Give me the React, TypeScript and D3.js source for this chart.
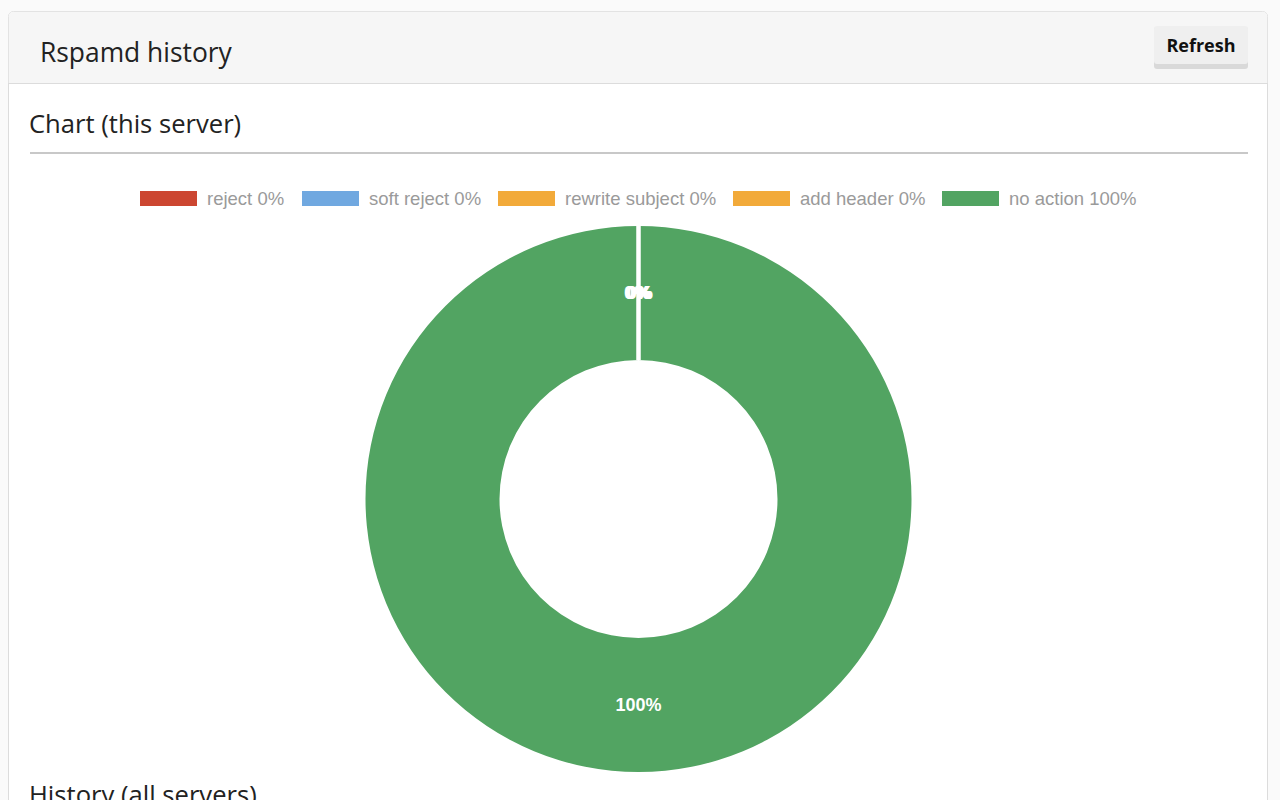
import React from "react";
import * as d3 from "d3";

const actions = ["reject", "soft reject", "rewrite subject", "add header", "no action"];
const values = [0, 0, 0, 0, 100];
const colors = ["#cc4631", "#70a8e0", "#f2aa3a", "#f2aa3a", "#52a462"];
const legendX = [140, 302, 498, 733, 942];

export default function App() {
  const W = 1280, H = 800;
  const cx = 638.5, cy = 499, outerR = 273, innerR = 139;
  const total = d3.sum(values);
  const pie = d3.pie<number>().sort(null).value((d) => d);
  const arcs = pie(values);
  const arc = d3.arc<d3.PieArcDatum<number>>().innerRadius(innerR).outerRadius(outerR);
  const labelArc = d3.arc<d3.PieArcDatum<number>>().innerRadius((innerR + outerR) / 2).outerRadius((innerR + outerR) / 2);
  const pct = (v: number) => `${Math.round((v / total) * 100)}%`;
  const sans = "'Open Sans', sans-serif";
  const helv = "'Liberation Sans', Arial, sans-serif";
  const edge = (a: number, r: number) => [Math.sin(a) * r, -Math.cos(a) * r];

  return (
    <div style={{ position: "fixed", left: 0, top: 0, width: W, height: H, background: "#fafafa" }}>
      <svg width={W} height={H} style={{ display: "block" }}>
        <defs>
          <clipPath id="card">
            <rect x={8.5} y={11.5} width={1259} height={900} rx={5} />
          </clipPath>
        </defs>
        <rect x={8.5} y={11.5} width={1259} height={900} rx={5} fill="#fff" stroke="#dcdcdc" />
        <g clipPath="url(#card)">
          <rect x={8.5} y={11.5} width={1259} height={72} fill="#f6f6f6" />
        </g>
        <line x1={8} x2={1268} y1={83.5} y2={83.5} stroke="#dcdcdc" />
        <text x={40} y={62} fontFamily={sans} fontSize={26.4} fill="#222">Rspamd history</text>
        {/* Refresh button */}
        <rect x={1154} y={27} width={94} height={42} rx={3} fill="#d9d9d9" />
        <rect x={1154} y={26} width={94} height={38} rx={3} fill="#efefef" />
        <text x={1201} y={52} textAnchor="middle" fontFamily={sans} fontWeight={700} fontSize={18} fill="#111">Refresh</text>

        <text x={29} y={133} fontFamily={sans} fontSize={25.6} fill="#222">Chart (this server)</text>
        <line x1={30} x2={1248} y1={153} y2={153} stroke="#c8c8c8" strokeWidth={2} />

        {/* legend */}
        {actions.map((a, i) => (
          <g key={a}>
            <rect x={legendX[i]} y={191} width={57} height={15} fill={colors[i]} />
            <text x={legendX[i] + 67} y={205} fontFamily={helv} fontSize={18.5} fill="#9a9a9a">
              {`${a} ${pct(values[i])}`}
            </text>
          </g>
        ))}

        {/* donut */}
        <g transform={`translate(${cx},${cy})`}>
          {arcs.map((d, i) => (
            <path key={i} d={arc(d) || ""} fill={colors[i]} />
          ))}
          {arcs.map((d, i) => {
            const [x1, y1] = edge(d.startAngle, innerR);
            const [x2, y2] = edge(d.startAngle, outerR + 1);
            return <line key={`s${i}`} x1={x1} y1={y1} x2={x2} y2={y2} stroke="#fff" strokeWidth={3.5} />;
          })}
          {arcs.map((d, i) => {
            const [lx, ly] = labelArc.centroid(d);
            return (
              <text key={`l${i}`} x={lx + (values[i] === 0 ? i - 1.5 : 0)} y={ly} dy="0.35em" textAnchor="middle" fontFamily={helv} fontWeight={700} fontSize={18} fill="#fff">
                {pct(values[i])}
              </text>
            );
          })}
        </g>

        <text x={29} y={804} fontFamily={sans} fontSize={25.6} fill="#222">History (all servers)</text>
      </svg>
    </div>
  );
}
